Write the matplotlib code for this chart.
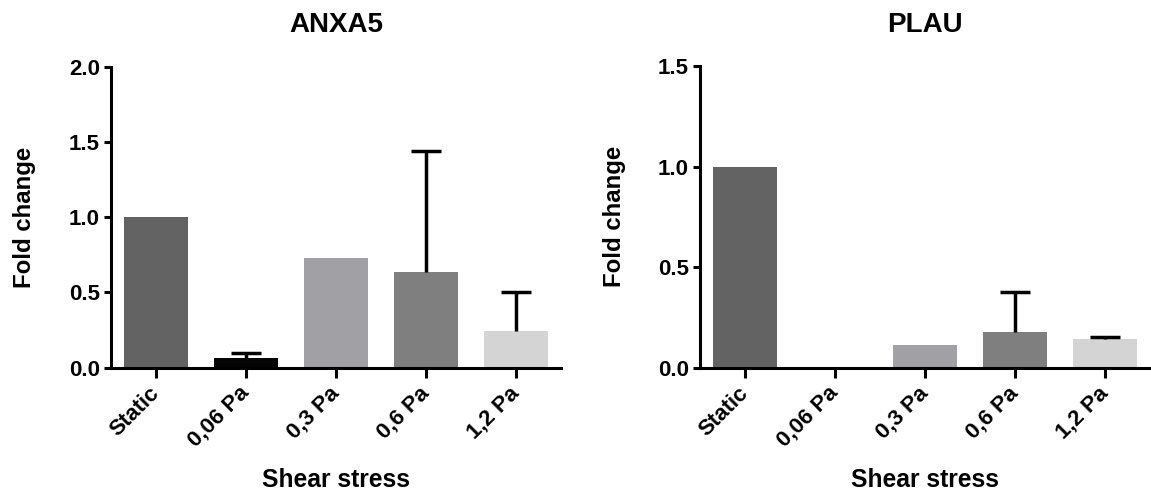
import matplotlib
matplotlib.use("Agg")
import matplotlib.pyplot as plt
import matplotlib.transforms as mtransforms
import numpy as np

plt.rcParams['font.family'] = ['Liberation Sans', 'DejaVu Sans']
plt.rcParams['font.weight'] = 'bold'

categories = ["Static", "0,06 Pa", "0,3 Pa", "0,6 Pa", "1,2 Pa"]
colors = ["#636363", "#050505", "#a1a1a5", "#7f7f7f", "#d4d4d4"]

anxa5_mean = [1.0, 0.063, 0.73, 0.635, 0.245]
anxa5_err = [0.0, 0.033, 0.0, 0.805, 0.255]

plau_mean = [1.0, 0.0, 0.112, 0.178, 0.145]
plau_err = [0.0, 0.0, 0.0, 0.20, 0.008]

fig = plt.figure(figsize=(11.51, 4.93), dpi=100)

panels = [
    ("ANXA5", anxa5_mean, anxa5_err, 2.0, [0, 0.5, 1.0, 1.5, 2.0],
     [0.0964, 0.2542, 0.391, 0.610], -0.193),
    ("PLAU", plau_mean, plau_err, 1.5, [0, 0.5, 1.0, 1.5],
     [0.6082, 0.2542, 0.391, 0.6116], -0.189),
]

cap_half = 0.167
for title, mean, err, ymax, yticks, rect, ylx in panels:
    ax = fig.add_axes(rect)
    x = np.arange(len(categories))
    ax.bar(x, mean, width=0.71, color=colors, zorder=2)
    mean_a = np.array(mean)
    err_a = np.array(err)
    sel = err_a > 0
    top = mean_a + err_a
    ax.vlines(x[sel], mean_a[sel], top[sel], colors='black', linewidth=2.5, zorder=3)
    ax.hlines(top[sel], x[sel] - cap_half, x[sel] + cap_half, colors='black',
              linewidth=2.5, zorder=3)
    ax.set_xlim(-0.5, 4.5)
    ax.set_ylim(0, ymax)
    ax.set_yticks(yticks)
    ax.set_yticklabels([f"{v:.1f}" for v in yticks])
    ax.set_xticks(x)
    ax.set_xticklabels(categories, rotation=45, ha='right', va='center',
                       rotation_mode='anchor')
    offset = mtransforms.ScaledTranslation(3 / 100, -2 / 100, fig.dpi_scale_trans)
    for lab in ax.get_xticklabels():
        lab.set_transform(lab.get_transform() + offset)
    for s in ['top', 'right']:
        ax.spines[s].set_visible(False)
    for s in ['left', 'bottom']:
        ax.spines[s].set_linewidth(2.2)
    ax.tick_params(axis='x', length=7, width=2.2, labelsize=16, pad=9)
    ax.tick_params(axis='y', length=5, width=2.2, labelsize=16, pad=3)
    for lab in ax.get_xticklabels() + ax.get_yticklabels():
        lab.set_fontweight('bold')
    ttl = ax.text(0.5, (493 - 32) / 493, title, fontsize=20, fontweight='bold',
                  ha='center', va='baseline',
                  transform=mtransforms.blended_transform_factory(ax.transAxes, fig.transFigure))
    ax.set_ylabel("Fold change", fontsize=17.3, fontweight='bold')
    ax.yaxis.set_label_coords(ylx, 0.501)
    ax.yaxis.label.set_horizontalalignment('center')
    ax.yaxis.label.set_verticalalignment('center')
    ax.set_xlabel("Shear stress", fontsize=17.7, fontweight='bold')
    ax.xaxis.set_label_coords(0.5, -0.397)
    ax.xaxis.label.set_verticalalignment('baseline')

fig.savefig("out.png", dpi=100, facecolor='white')
